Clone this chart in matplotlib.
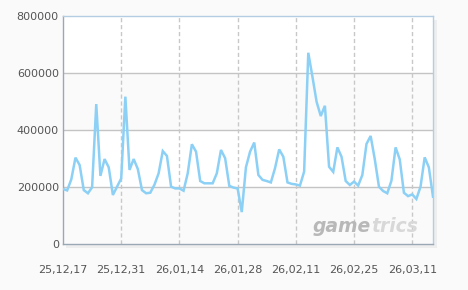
import matplotlib
matplotlib.use("Agg")
import matplotlib.pyplot as plt
from matplotlib.patches import Rectangle

tick_labels = ["25,12,17", "25,12,31", "26,01,14", "26,01,28", "26,02,11", "26,02,25", "26,03,11"]
y_ticks = [0, 200000, 400000, 600000, 800000]
values = [
    193000, 188000, 227000, 303000, 277000, 189000, 178000, 199000, 491000, 239000,
    298000, 269000, 172000, 201000, 230000, 517000, 260000, 298000, 263000, 189000,
    178000, 180000, 208000, 248000, 326000, 309000, 201000, 195000, 195000, 187000,
    248000, 350000, 324000, 221000, 213000, 213000, 213000, 248000, 330000, 301000,
    204000, 198000, 195000, 112000, 269000, 324000, 356000, 242000, 225000, 221000,
    216000, 266000, 332000, 306000, 216000, 211000, 209000, 205000, 254000, 671000,
    587000, 499000, 449000, 485000, 271000, 253000, 339000, 306000, 221000, 207000,
    219000, 205000, 242000, 351000, 379000, 297000, 201000, 186000, 178000, 222000,
    339000, 297000, 180000, 168000, 174000, 158000, 201000, 304000, 269000, 166000,
]
days = list(range(len(values)))
tick_days = [14 * i for i in range(len(tick_labels))]

W, H = 468, 290
fig = plt.figure(figsize=(W / 100, H / 100), dpi=100, facecolor="#fafafa")
L, R, T, B = 63, 433, 16, 244
ax = fig.add_axes([L / W, 1 - B / H, (R - L) / W, (B - T) / H])
ax.set_zorder(2)

# shadow behind the plot area
fig.patches.append(Rectangle(((L + 3) / W, 1 - (B + 4) / H), (R - L + 1) / W, (B - T) / H,
                             transform=fig.transFigure, facecolor="#eeeeee", edgecolor="none", zorder=0))

ax.set_facecolor("white")
for i in range(0, 4, 2):
    ax.axhspan(y_ticks[i], y_ticks[i + 1], color="#fafafa", zorder=0, lw=0)

ax.plot(days, values, color="#8cd0f6", lw=1.8, zorder=3, solid_joinstyle="miter")

ax.set_xlim(0, len(values) - 1)
ax.set_ylim(0, 800000)
ax.set_yticks(y_ticks)
ax.set_yticklabels([str(v) for v in y_ticks])
ax.set_xticks(tick_days)
ax.set_xticklabels(tick_labels)

for v in y_ticks[1:-1]:
    ax.axhline(v, color="#c4c4c4", lw=1, zorder=1)
for d in tick_days[1:]:
    ax.axvline(d, color="#c8c8c8", lw=1, ls=(0, (3, 2)), zorder=1)

ax.tick_params(axis="both", length=0, labelsize=8, colors="#555555")
ax.tick_params(axis="x", pad=15)
ax.tick_params(axis="y", pad=3)

ax.spines["left"].set_color("#9aa7b4")
ax.spines["bottom"].set_color("#9aa7b4")
ax.spines["top"].set_color("#b5cde2")
ax.spines["right"].set_color("#b5cde2")
for s in ax.spines.values():
    s.set_linewidth(1)

# watermark (inside plot area, under the line)
ax.text((313 - L) / (R - L), (B - 232) / (B - T), "game", transform=ax.transAxes,
        fontsize=13.5, fontstyle="italic", fontweight="bold", color="#b8b8b8", zorder=2)
ax.text((371 - L) / (R - L), (B - 232) / (B - T), "trics", transform=ax.transAxes,
        fontsize=13.5, fontstyle="italic", fontweight="bold", color="#d8d8d8", zorder=2)

fig.savefig("out.png", dpi=100, facecolor=fig.get_facecolor())
